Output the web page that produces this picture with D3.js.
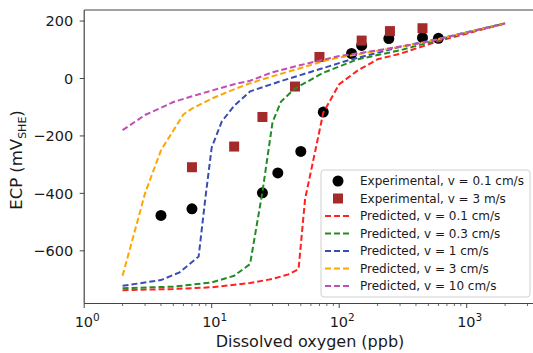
<!DOCTYPE html>
<html>
<head>
<meta charset="utf-8">
<script src="https://cdn.jsdelivr.net/npm/d3@7"></script>
<style>
  body { margin: 0; background: #fff; }
  svg { display: block; font-family: "DejaVu Sans", sans-serif; }
</style>
</head>
<body>
<svg id="chart" width="533" height="353"></svg>
<script>
// experimental data
var expSlowDO  = [4, 7, 25, 33, 50, 75, 125, 150, 245, 450, 600];
var expSlowECP = [-477, -454, -398, -329, -254, -117, 87, 115, 139, 142, 140];
var expFastDO  = [7, 15, 25, 45, 70, 150, 250, 450];
var expFastECP = [-309, -237, -134, -28, 75, 132, 165, 175];

// predicted curves
var pred01DO  = [2, 5, 10, 20, 30, 40, 48, 54, 67, 75, 100, 140, 200, 300, 600, 2000];
var pred01ECP = [-737, -733, -727, -712, -698, -682, -664, -420, -223, -119, -20, 28, 67, 86, 130, 192];
var pred03DO  = [2, 5, 10, 15, 20, 25, 30, 35, 45, 75, 140, 300, 600, 2000];
var pred03ECP = [-730, -725, -710, -687, -646, -395, -152, -80, -35, 20, 67, 98, 135, 192];
var pred1DO   = [2, 4, 5.6, 7.9, 8.9, 10, 12, 15, 20, 35, 63, 115, 300, 600, 2000];
var pred1ECP  = [-722, -702, -675, -620, -420, -240, -150, -95, -45, -9, 26, 62, 110, 138, 192];
var pred3DO   = [2, 3, 4, 6, 7, 10, 14, 19, 25, 46, 85, 175, 460, 1000, 2000];
var pred3ECP  = [-687, -400, -250, -125, -105, -70, -43, -20, -3, 32, 67, 92, 125, 160, 192];
var pred10DO  = [2, 3, 4, 5, 7, 10, 15, 20, 30, 50, 100, 200, 460, 1000, 2000];
var pred10ECP = [-180, -127, -102, -82, -62, -42, -20, -8, 22, 47, 78, 98, 125, 160, 192];

var xTickVals = [1, 10, 100, 1000];
var xTickExp  = ['0', '1', '2', '3'];
var yTickVals = [-600, -400, -200, 0, 200];

var predLines = [
  {label: 'Predicted, v = 0.1 cm/s', x: pred01DO, y: pred01ECP, color: '#ff2020'},
  {label: 'Predicted, v = 0.3 cm/s', x: pred03DO, y: pred03ECP, color: '#228b22'},
  {label: 'Predicted, v = 1 cm/s',   x: pred1DO,  y: pred1ECP,  color: '#3b4db3'},
  {label: 'Predicted, v = 3 cm/s',   x: pred3DO,  y: pred3ECP,  color: '#ffa500'},
  {label: 'Predicted, v = 10 cm/s',  x: pred10DO, y: pred10ECP, color: '#c04fb5'}
];

var svg = d3.select('#chart');
var plotLeft = 84.2, plotTop = 10, plotBottom = 303.5;
var decade = 127.5;

var x = d3.scaleLog().domain([1, Math.pow(10, 3.6)]).range([plotLeft, plotLeft + decade * 3.6]);
var y = d3.scaleLinear().domain([-783.5, 238.5]).range([plotBottom, plotTop]);

var axisColor = '#444';

// markers first, lines over them like matplotlib
var markerG = svg.append('g');
var lineG = svg.append('g');

var line = d3.line()
  .x(d => x(d[0]))
  .y(d => y(d[1]));

markerG.selectAll('circle')
  .data(d3.zip(expSlowDO, expSlowECP))
  .enter()
  .append('circle')
    .attr('cx', d => x(d[0]))
    .attr('cy', d => y(d[1]))
    .attr('r', 5.5)
    .attr('fill', '#000');

markerG.selectAll('rect')
  .data(d3.zip(expFastDO, expFastECP))
  .enter()
  .append('rect')
    .attr('x', d => x(d[0]) - 5)
    .attr('y', d => y(d[1]) - 5)
    .attr('width', 10)
    .attr('height', 10)
    .attr('fill', '#a52a2a');

lineG.selectAll('path')
  .data(predLines)
  .enter()
  .append('path')
    .attr('d', d => line(d3.zip(d.x, d.y)))
    .attr('fill', 'none')
    .attr('stroke', d => d.color)
    .attr('stroke-width', 2)
    .attr('stroke-dasharray', '6,3');

// frame
svg.append('line').attr('x1', plotLeft).attr('x2', plotLeft).attr('y1', plotTop).attr('y2', plotBottom)
  .attr('stroke', axisColor).attr('stroke-width', 1.2);
svg.append('line').attr('x1', plotLeft).attr('x2', 540).attr('y1', plotTop).attr('y2', plotTop)
  .attr('stroke', axisColor).attr('stroke-width', 1.2);

// x axis
var xAxis = svg.append('g').attr('transform', 'translate(0,' + plotBottom + ')');
xAxis.append('line').attr('x1', plotLeft).attr('x2', 540).attr('stroke', axisColor).attr('stroke-width', 1.2);

var minor = [];
[1, 10, 100, 1000].forEach(function(b){
  for (var k = 2; k <= 9; k++) minor.push(b * k);
});
xAxis.selectAll('.minor')
  .data(minor)
  .enter()
  .append('line')
    .attr('class', 'minor')
    .attr('x1', d => x(d)).attr('x2', d => x(d))
    .attr('y1', 0).attr('y2', 2.5)
    .attr('stroke', axisColor).attr('stroke-width', 0.8);

xAxis.selectAll('.major')
  .data(xTickVals)
  .enter()
  .append('line')
    .attr('class', 'major')
    .attr('x1', d => x(d)).attr('x2', d => x(d))
    .attr('y1', 0).attr('y2', 4.5)
    .attr('stroke', axisColor).attr('stroke-width', 1);

var xl = xAxis.selectAll('.xlab')
  .data(xTickVals)
  .enter()
  .append('text')
    .attr('class', 'xlab')
    .attr('x', d => x(d) + 3)
    .attr('y', 23)
    .attr('text-anchor', 'middle')
    .attr('font-size', 14.5)
    .attr('fill', '#1a1a1a');
xl.append('tspan').text('10');
xl.append('tspan')
  .attr('font-size', 10.5)
  .attr('dy', -6)
  .text((d, i) => xTickExp[i]);

svg.append('text')
  .attr('x', 310)
  .attr('y', 346.5)
  .attr('text-anchor', 'middle')
  .attr('font-size', 16)
  .attr('fill', '#1a1a1a')
  .text('Dissolved oxygen (ppb)');

// y axis
var yAxis = svg.append('g');
yAxis.selectAll('line')
  .data(yTickVals)
  .enter()
  .append('line')
    .attr('x1', plotLeft - 4.5).attr('x2', plotLeft)
    .attr('y1', d => y(d)).attr('y2', d => y(d))
    .attr('stroke', axisColor).attr('stroke-width', 1);
yAxis.selectAll('text')
  .data(yTickVals)
  .enter()
  .append('text')
    .attr('x', plotLeft - 11)
    .attr('y', d => y(d))
    .attr('dy', '0.36em')
    .attr('text-anchor', 'end')
    .attr('font-size', 14.5)
    .attr('fill', '#1a1a1a')
    .text(d => d < 0 ? '\u2212' + Math.abs(d) : d);

var yl = svg.append('text')
  .attr('transform', 'translate(22,160) rotate(-90)')
  .attr('text-anchor', 'middle')
  .attr('font-size', 16.5)
  .attr('fill', '#1a1a1a');
yl.append('tspan').text('ECP (mV');
yl.append('tspan').attr('font-size', 11).attr('dy', 3.5).text('SHE');
yl.append('tspan').attr('dy', -3.5).text(')');

// legend
var legendItems = [
  {label: 'Experimental, v = 0.1 cm/s', type: 'circle'},
  {label: 'Experimental, v = 3 m/s', type: 'square'}
].concat(predLines.map(d => ({label: d.label, type: 'line', color: d.color})));

var legend = svg.append('g').attr('transform', 'translate(321,170)');
legend.append('rect')
  .attr('width', 209).attr('height', 127)
  .attr('rx', 3)
  .attr('fill', '#fff').attr('fill-opacity', 0.85)
  .attr('stroke', '#d0d0d0').attr('stroke-width', 1);

var rows = legend.selectAll('g.row')
  .data(legendItems)
  .enter()
  .append('g')
    .attr('class', 'row')
    .attr('transform', (d, i) => 'translate(0,' + (11 + i * 17.5) + ')');

rows.filter(d => d.type === 'circle').append('circle')
  .attr('cx', 17).attr('cy', 0).attr('r', 5.5).attr('fill', '#000');
rows.filter(d => d.type === 'square').append('rect')
  .attr('x', 12).attr('y', -5).attr('width', 10).attr('height', 10).attr('fill', '#a52a2a');
rows.filter(d => d.type === 'line').append('line')
  .attr('x1', 4).attr('x2', 30).attr('y1', 0).attr('y2', 0)
  .attr('stroke', d => d.color).attr('stroke-width', 2)
  .attr('stroke-dasharray', '6,3');

rows.append('text')
  .attr('x', 39)
  .attr('dy', '0.36em')
  .attr('font-size', 12)
  .attr('fill', '#1a1a1a')
  .text(d => d.label);
</script>
</body>
</html>
